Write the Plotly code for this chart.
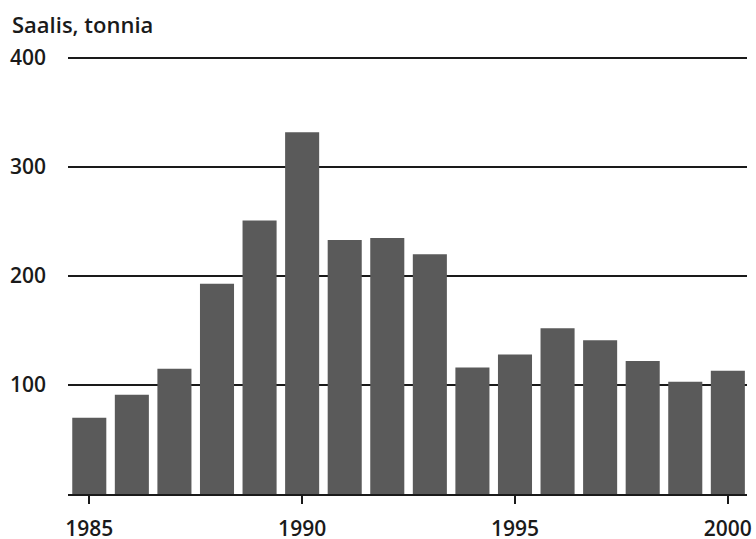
import plotly.graph_objects as go

years = list(range(1985, 2001))
catch_tonnes = [70, 91, 115, 193, 251, 332, 233, 235, 220, 116, 128, 152, 141, 122, 103, 113]
y_ticks = [100, 200, 300, 400]
x_ticks = [1985, 1990, 1995, 2000]
title_text = "Saalis, tonnia"

FONT = "Open Sans"
INK = "#1a1a1a"

fig = go.Figure()
fig.add_trace(go.Bar(
    x=years, y=catch_tonnes,
    marker=dict(color="#5a5a5a", line=dict(width=0)),
    width=0.8,
))

fig.update_layout(
    width=756, height=539,
    margin=dict(l=68, r=9, t=57, b=45, autoexpand=False),
    paper_bgcolor="white", plot_bgcolor="white",
    showlegend=False,
    font=dict(family=FONT, size=21, color=INK),
    xaxis=dict(
        range=[1984.5, 2000.45], automargin=False,
        tickmode="array", tickvals=x_ticks, ticktext=[str(v) for v in x_ticks],
        showgrid=False, zeroline=False,
        showline=True, linecolor=INK, linewidth=2,
        ticks="outside", ticklen=8, tickwidth=1.5, tickcolor=INK,
        ticklabelstandoff=7,
        tickfont=dict(family=FONT, size=21, color=INK, weight=600),
    ),
    yaxis=dict(
        range=[0, 401], automargin=False,
        tickmode="array", tickvals=y_ticks, ticktext=[str(v) for v in y_ticks],
        showgrid=True, gridcolor=INK, gridwidth=1.5,
        zeroline=False, showline=False,
        ticks="", ticklabelstandoff=21,
        tickfont=dict(family=FONT, size=21, color=INK, weight=600),
    ),
    annotations=[dict(
        text=title_text, xref="paper", yref="paper",
        x=-58/679, y=1 + 33/437, xanchor="left", yanchor="middle",
        showarrow=False,
        font=dict(family=FONT, size=22, color=INK, weight=600),
    )],
)

fig.write_html(
    "out.html",
    config={"displayModeBar": False},
    post_script="document.body.style.margin='0';document.body.style.overflow='hidden';",
)
